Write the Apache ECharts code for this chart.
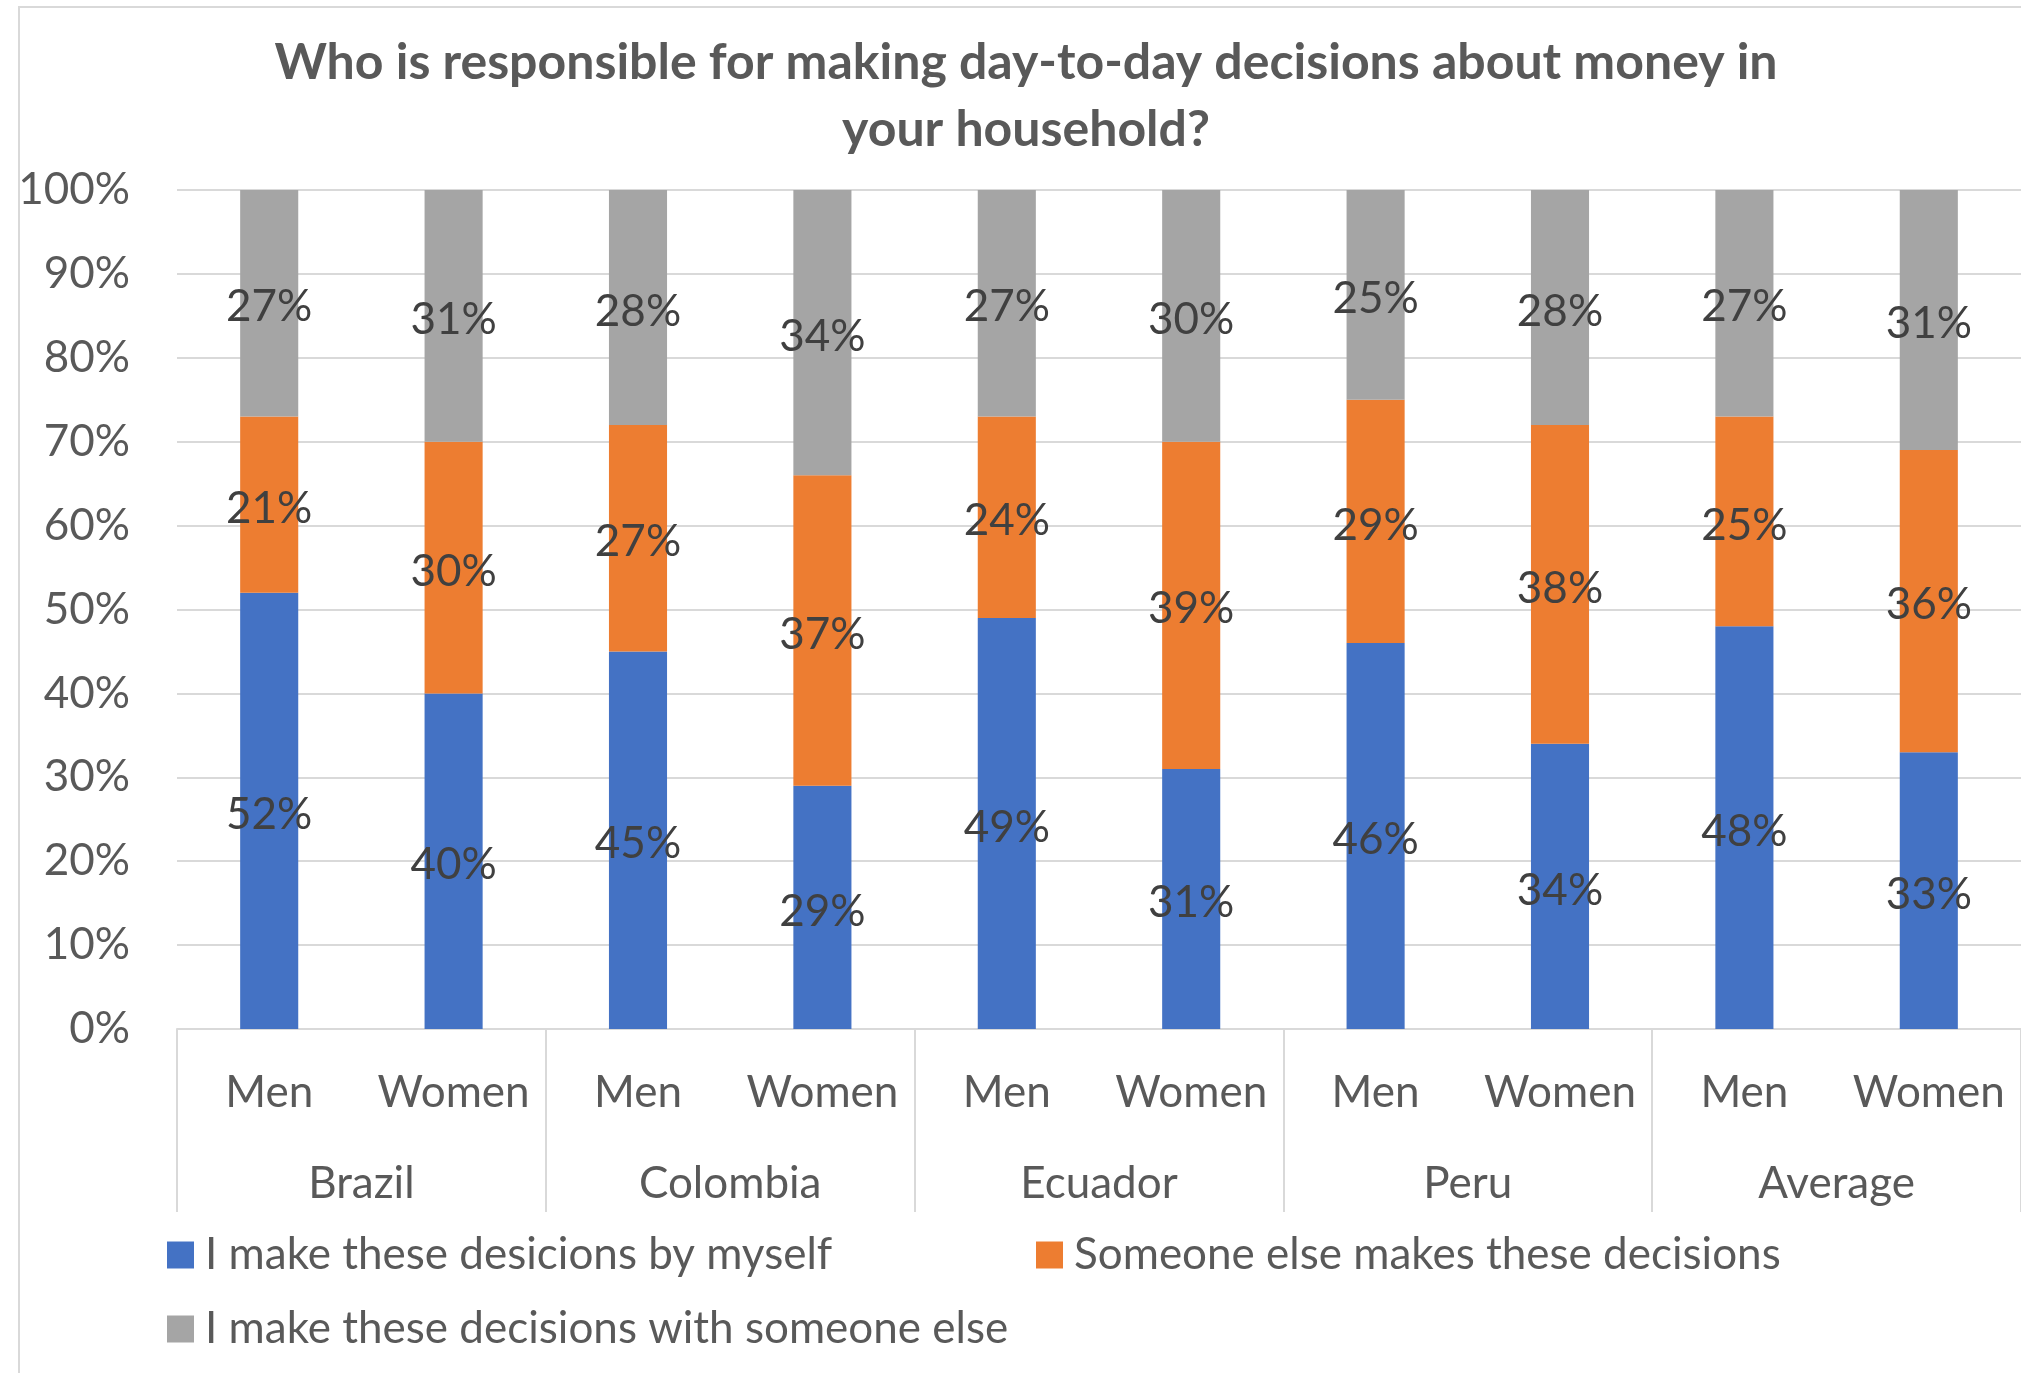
<!DOCTYPE html>
<html>
<head>
<meta charset="utf-8">
<title>Day-to-day money decisions</title>
<script src="https://cdn.jsdelivr.net/npm/echarts@6/dist/echarts.min.js"></script>
<style>
  html, body { margin: 0; padding: 0; background: #ffffff; }
  #chart { width: 2021px; height: 1373px; }
</style>
</head>
<body>
<div id="chart"></div>
<script>
// Bars: one per sex within each country group
const sexes = ['Men', 'Women', 'Men', 'Women', 'Men', 'Women', 'Men', 'Women', 'Men', 'Women'];
const countries = ['Brazil', 'Colombia', 'Ecuador', 'Peru', 'Average'];

// Share of respondents (%) per answer
const byMyself = [52, 40, 45, 29, 49, 31, 46, 34, 48, 33];
const someoneElse = [21, 30, 27, 37, 24, 39, 29, 38, 25, 36];
const withSomeone = [27, 31, 28, 34, 27, 30, 25, 28, 27, 31];

const seriesNames = [
  'I make these desicions by myself',
  'Someone else makes these decisions',
  'I make these decisions with someone else'
];
const yTicks = { min: 0, max: 100, step: 10 };

const FONT = 'Lato';
const AXIS_COLOR = '#595959';
const GRID_COLOR = '#D9D9D9';

const chart = echarts.init(document.getElementById('chart'), null, { renderer: 'canvas' });

function barSeries(name, values, color) {
  return {
    name: name,
    type: 'bar',
    stack: 'total',
    xAxisIndex: 0,
    barWidth: '31.5%',
    data: values,
    itemStyle: { color: color },
    label: {
      show: true,
      position: 'inside',
      offset: [0, 4],
      formatter: '{c}%',
      fontFamily: FONT,
      fontSize: 44,
      color: '#404040'
    },
    emphasis: { disabled: true }
  };
}

function legendAt(name, left, top) {
  return {
    data: [name],
    left: left,
    top: top,
    padding: 0,
    orient: 'horizontal',
    icon: 'rect',
    itemWidth: 27,
    itemHeight: 27,
    selectedMode: false,
    textStyle: {
      fontFamily: FONT,
      fontSize: 44,
      color: AXIS_COLOR,
      lineHeight: 50,
      padding: [0, 0, 0, 6]
    }
  };
}

chart.setOption({
  animation: false,
  backgroundColor: '#ffffff',
  title: {
    text: 'Who is responsible for making day-to-day decisions about money in\nyour household?',
    left: 1021,
    textAlign: 'center',
    top: 24,
    textStyle: {
      fontFamily: FONT,
      fontSize: 50,
      fontWeight: 'bold',
      color: AXIS_COLOR,
      lineHeight: 67
    }
  },
  legend: [
    legendAt(seriesNames[0], 167, 1230),
    legendAt(seriesNames[1], 1036, 1230),
    legendAt(seriesNames[2], 167, 1304)
  ],
  grid: { left: 177, right: 0, top: 190, bottom: 344, containLabel: false },
  xAxis: [
    {
      type: 'category',
      data: sexes,
      position: 'bottom',
      axisLine: { show: true, lineStyle: { color: GRID_COLOR, width: 2 } },
      axisTick: { show: false },
      axisLabel: {
        interval: 0,
        margin: 42,
        fontFamily: FONT,
        fontSize: 44,
        color: AXIS_COLOR
      }
    },
    {
      type: 'category',
      data: countries,
      position: 'bottom',
      axisLine: { show: false },
      axisTick: {
        show: true,
        interval: 0,
        length: 183,
        lineStyle: { color: GRID_COLOR, width: 2 }
      },
      axisLabel: {
        interval: 0,
        margin: 133,
        fontFamily: FONT,
        fontSize: 44,
        color: AXIS_COLOR
      },
      splitLine: { show: false }
    }
  ],
  yAxis: {
    type: 'value',
    min: yTicks.min,
    max: yTicks.max,
    interval: yTicks.step,
    axisLine: { show: false },
    axisTick: { show: false },
    axisLabel: {
      formatter: '{value}%',
      margin: 47,
      fontFamily: FONT,
      fontSize: 44,
      color: AXIS_COLOR
    },
    splitLine: { show: true, lineStyle: { color: GRID_COLOR, width: 2 } }
  },
  graphic: [
    {
      // chart area frame along the top and left edges
      type: 'polyline',
      shape: { points: [[19, 1373], [19, 7], [2021, 7]] },
      style: { stroke: GRID_COLOR, lineWidth: 2, fill: null },
      silent: true
    }
  ],
  series: [
    barSeries(seriesNames[0], byMyself, '#4472C4'),
    barSeries(seriesNames[1], someoneElse, '#ED7D31'),
    barSeries(seriesNames[2], withSomeone, '#A5A5A5')
  ]
});
</script>
</body>
</html>
